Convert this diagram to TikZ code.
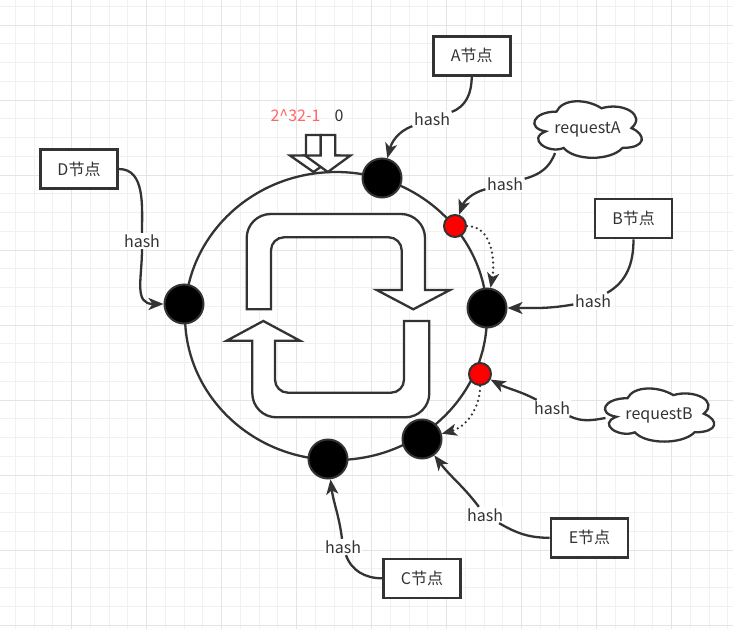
\documentclass[tikz,border=0pt]{standalone}
\usepackage{fontspec}
\setmainfont{Noto Sans CJK SC}
\usetikzlibrary{arrows.meta}
\definecolor{ink}{HTML}{333333}
\definecolor{gridminor}{HTML}{F1F1F1}
\definecolor{gridmajor}{HTML}{E4E4E4}
\definecolor{redtxt}{HTML}{FF6666}
\newcommand{\drawcloud}[4]{% x0, y0 (downward), w, h
  \draw[cloudline] ({#1+0.25*#3},{-(#2+0.25*#4)})
    .. controls ({#1+0.05*#3},{-(#2+0.25*#4)}) and ({#1},{-(#2+0.5*#4)}) .. ({#1+0.16*#3},{-(#2+0.55*#4)})
    .. controls ({#1},{-(#2+0.66*#4)}) and ({#1+0.18*#3},{-(#2+0.9*#4)}) .. ({#1+0.31*#3},{-(#2+0.8*#4)})
    .. controls ({#1+0.4*#3},{-(#2+#4)}) and ({#1+0.7*#3},{-(#2+#4)}) .. ({#1+0.8*#3},{-(#2+0.8*#4)})
    .. controls ({#1+#3},{-(#2+0.8*#4)}) and ({#1+#3},{-(#2+0.6*#4)}) .. ({#1+0.875*#3},{-(#2+0.5*#4)})
    .. controls ({#1+#3},{-(#2+0.3*#4)}) and ({#1+0.8*#3},{-(#2+0.1*#4)}) .. ({#1+0.625*#3},{-(#2+0.2*#4)})
    .. controls ({#1+0.5*#3},{-(#2+0.05*#4)}) and ({#1+0.3*#3},{-(#2+0.05*#4)}) .. ({#1+0.25*#3},{-(#2+0.25*#4)})
    -- cycle;}
\tikzset{
  ringline/.style={draw=ink,line width=2.3pt},
  cloudline/.style={draw=ink,line width=2.3pt,fill=white},
  blockarrow/.style={draw=ink,line width=2.3pt,fill=white,line join=miter},
  hashnode/.style={circle,fill=black,draw=ink,line width=2pt,minimum size=39pt,inner sep=0pt},
  reqnode/.style={circle,fill=red,draw=ink,line width=2pt,minimum size=22pt,inner sep=0pt},
  srvbox/.style={draw=ink,line width=2.6pt,fill=white,minimum width=77pt,minimum height=39pt,inner sep=0pt,text=ink,font=\fontsize{16}{19}\selectfont},
  cloudtext/.style={inner sep=0pt,text=ink,font=\fontsize{16}{19}\selectfont},
  lbl/.style={fill=white,inner sep=1.5pt,text=ink,font=\fontsize{16}{19}\selectfont},
  conn/.style={draw=ink,line width=2.3pt,-{Stealth[length=15pt,width=12pt,inset=4pt]}},
  dotconn/.style={draw=ink,line width=2.5pt,line cap=round,dash pattern=on 0pt off 5pt,-{Stealth[length=15pt,width=12pt,inset=4pt]}},
}
\begin{document}
\begin{tikzpicture}[x=1pt,y=1pt]
\useasboundingbox (0,0) rectangle (733,-629);
\fill[white] (0,0) rectangle (733,-629);
% grid
\foreach \n in {0,...,38} {\draw[gridminor,line width=1pt] (15.45+18.75*\n,0) -- (15.45+18.75*\n,-629);}
\foreach \n in {0,...,33} {\draw[gridminor,line width=1pt] (0,-6.25-18.75*\n) -- (733,-6.25-18.75*\n);}
\foreach \n in {0,...,8} {\draw[gridmajor,line width=1pt] (71.7+75*\n,0) -- (71.7+75*\n,-629);}
\foreach \n in {0,...,8} {\draw[gridmajor,line width=1pt] (0,-25-75*\n) -- (733,-25-75*\n);}

% zero mark block arrows
\draw[blockarrow] (306,-135) -- (320.7,-135) -- (320.7,-155.5) -- (337,-155.5) -- (313.5,-172) -- (290,-155.5) -- (306,-155.5) -- cycle;
\draw[blockarrow] (320.7,-135) -- (335.3,-135) -- (335.3,-155.5) -- (350.5,-155.5) -- (327.8,-172) -- (305,-155.5) -- (320.7,-155.5) -- cycle;
\node[text=redtxt,font=\fontsize{16}{19}\selectfont] (t1) at (295.5,-116) {2\^{}32-1};
\node[text=ink,font=\fontsize{16}{19}\selectfont] (t0) at (339,-116) {0};

% ring
\draw[ringline] (336,-316) ellipse [x radius=151, y radius=144];

% inner cycle arrows
\draw[blockarrow] (246.7,-309.3) [rounded corners=24pt] -- (246.7,-214) -- (425,-214) [sharp corners] -- (425,-290) -- (450,-290) -- (413.3,-309.3) -- (376.7,-290) -- (401.7,-290) [rounded corners=13pt] -- (401.7,-237.3) -- (271,-237.3) [sharp corners] -- (271,-309.3) -- cycle;
\draw[blockarrow] (263.3,-321) -- (300,-340.7) -- (275,-340.7) [rounded corners=13pt] -- (275,-392.7) -- (404,-392.7) [sharp corners] -- (404,-321) -- (429.3,-321) [rounded corners=24pt] -- (429.3,-417.3) -- (252.3,-417.3) [sharp corners] -- (252.3,-340.7) -- (226.7,-340.7) -- cycle;

% ring nodes
\node[hashnode] (nA) at (382,-178) {};
\node[hashnode] (nB) at (487,-308) {};
\node[hashnode] (nC) at (328,-459) {};
\node[hashnode] (nD) at (184,-304) {};
\node[hashnode] (nE) at (422,-439) {};
\node[reqnode] (rA) at (455,-226) {};
\node[reqnode] (rB) at (480,-374) {};

% boxes
\node[srvbox] (bA) at (471.7,-55.8) {A节点};
\node[srvbox] (bB) at (633.5,-218.5) {B节点};
\node[srvbox] (bD) at (79,-169) {D节点};
\node[srvbox] (bC) at (422,-578.3) {C节点};
\node[srvbox] (bE) at (589.5,-537.8) {E节点};

% clouds
\drawcloud{526.5}{95.1}{120}{66}
\node[cloudtext] (cA) at (587.5,-129) {requestA};
\coordinate (cAout) at (555,-153);
\drawcloud{597}{382.7}{122}{62}
\node[cloudtext] (cB) at (659,-415) {requestB};
\coordinate (cBout) at (605.5,-418);

% labels
\node[lbl] (hA) at (432,-119) {hash};
\node[lbl] (hRA) at (505,-184) {hash};
\node[lbl] (hB) at (593,-301) {hash};
\node[lbl] (hRB) at (552,-408) {hash};
\node[lbl] (hE) at (485,-515) {hash};
\node[lbl] (hC) at (343,-547) {hash};
\node[lbl] (hD) at (142,-241) {hash};

% connectors
\draw[conn] (bA.south) to[out=-90,in=20] (hA) to[out=200,in=75] (nA);
\draw[conn] (cAout) to[out=-110,in=15] (hRA) to[out=195,in=70] (rA);
\draw[conn] (bB.south) to[out=-90,in=30] (hB) to[out=190,in=0] (nB);
\draw[conn] (cBout) to[out=190,in=-25] (hRB) to[out=152,in=-28] (rB);
\draw[conn] (bE.west) to[out=180,in=-30] (hE) to[out=127,in=-53] (nE);
\draw[conn] (bC.west) to[out=180,in=-70] (hC) to[out=97,in=-83] (nC);
\draw[conn] (bD.east) to[out=0,in=90] (hD) to[out=-90,in=180,looseness=1.3] (nD);

% dotted moves
\draw[dotconn] (rA.east) to[out=0,in=80] (nB);
\draw[dotconn] (rB.south) to[out=-90,in=15] (nE);
\end{tikzpicture}
\end{document}
